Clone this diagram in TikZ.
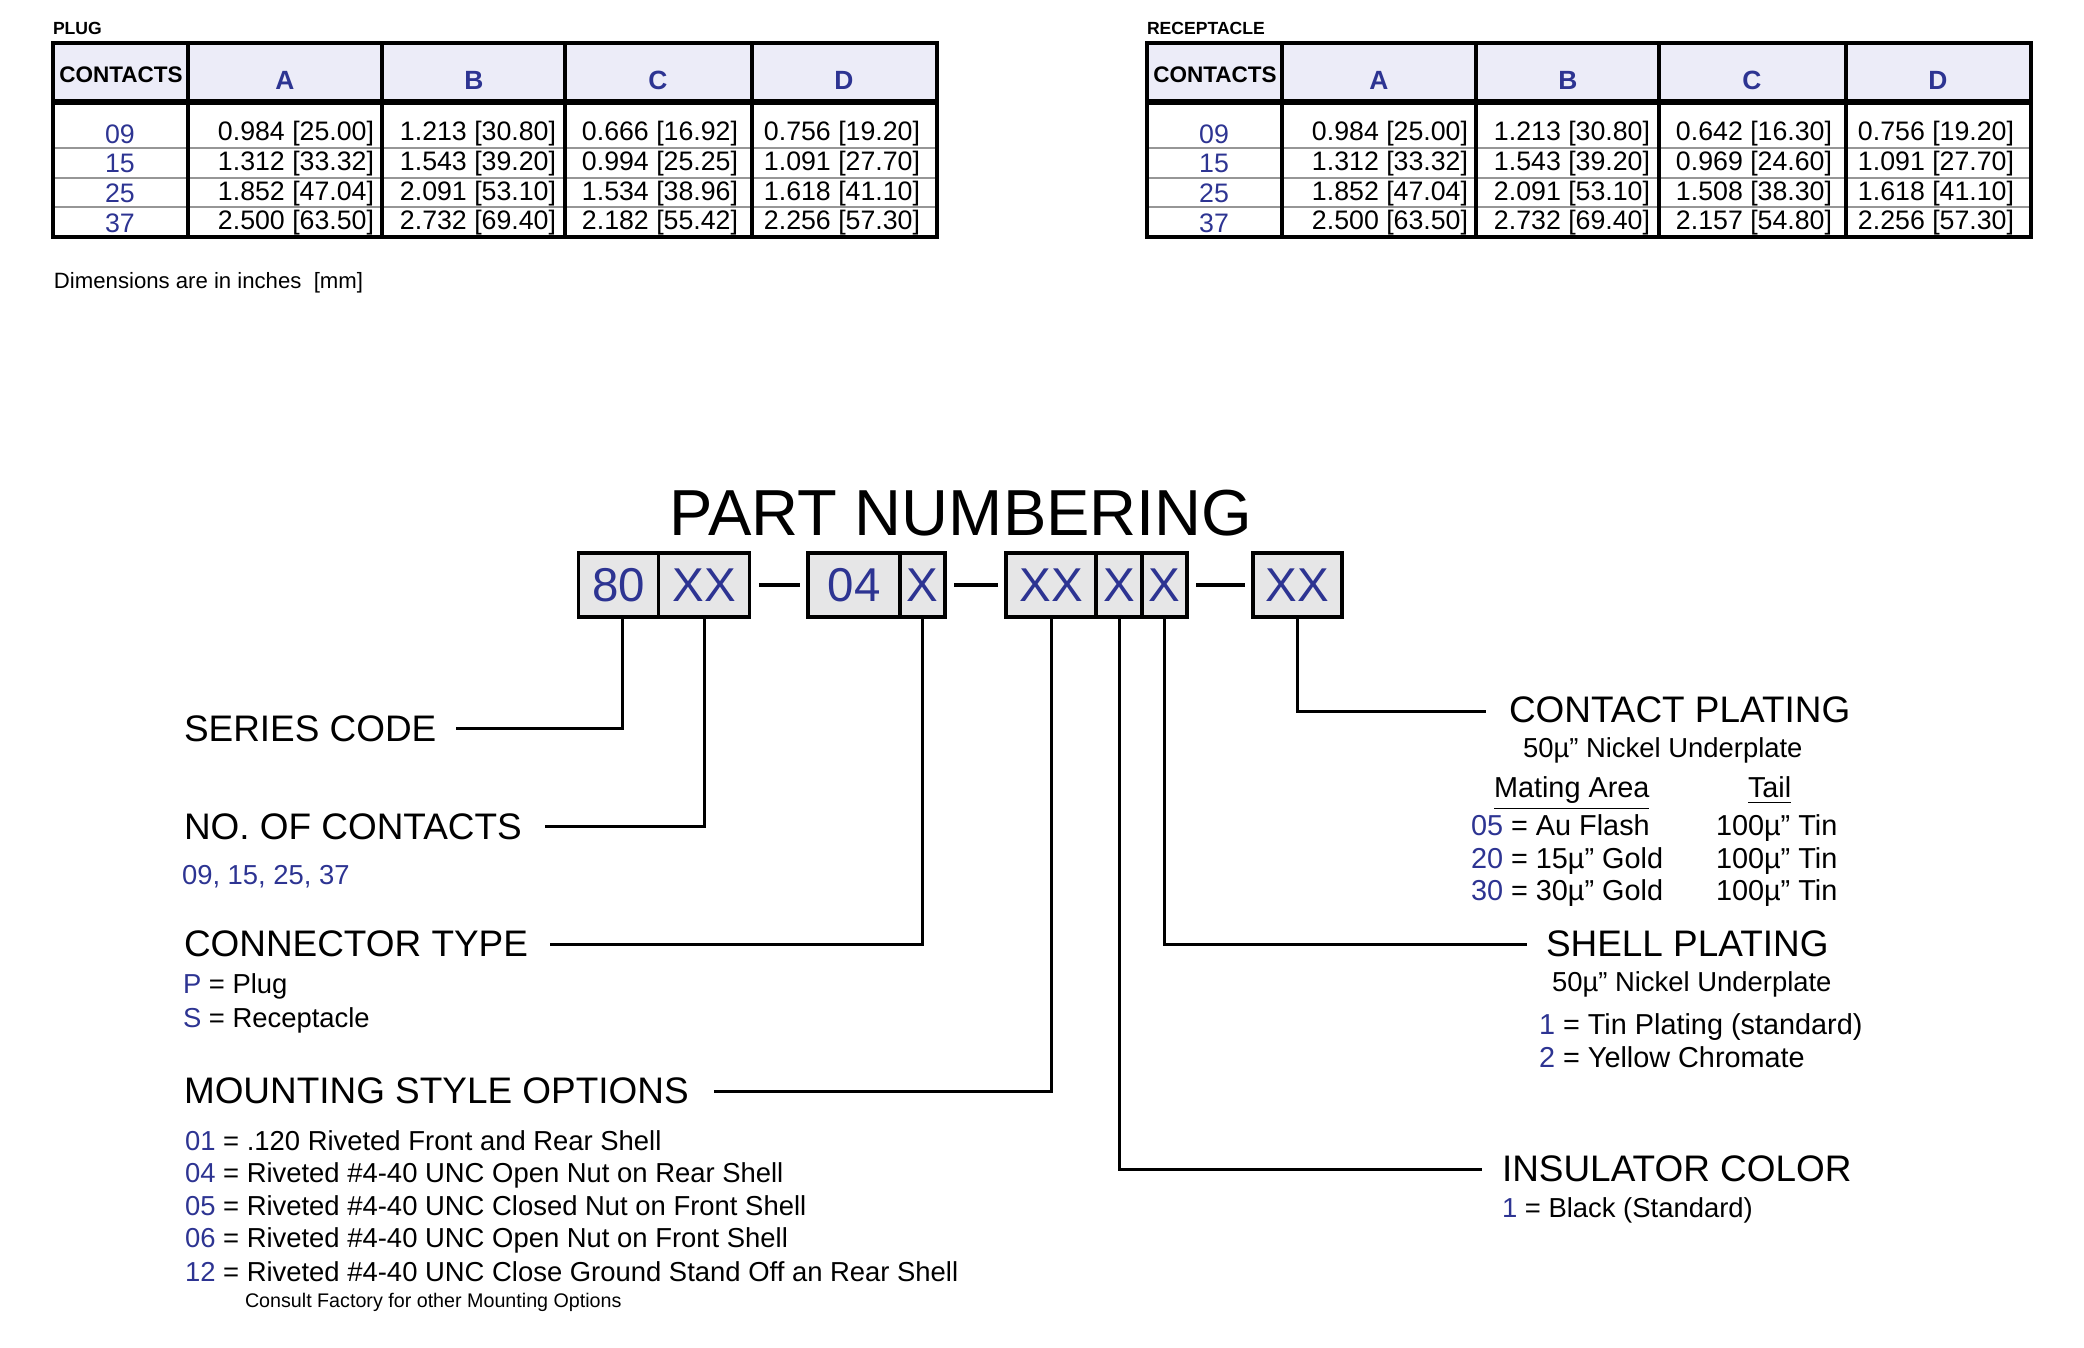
\documentclass[tikz,border=0pt]{standalone}
\usepackage{fontspec}
\setmainfont{Liberation Sans}
\usetikzlibrary{positioning}
\definecolor{codeblue}{RGB}{45,52,146}
\definecolor{headfill}{RGB}{236,236,248}
\definecolor{boxfill}{RGB}{230,230,231}
\definecolor{rowline}{RGB}{150,150,150}

\begin{document}
\begin{tikzpicture}[x=0.01cm,y=-0.01cm,
every node/.style={inner sep=0pt, outer sep=0pt},
head/.style={anchor=mid west, font=\fontsize{10.5}{12}\selectfont},
txt/.style={anchor=mid west, font=\fontsize{7.8}{9}\selectfont},
opt/.style={anchor=mid west, font=\fontsize{8.2}{10}\selectfont},
cell/.style={font=\fontsize{7.6}{9}\selectfont},
colhead/.style={font=\bfseries\fontsize{7.5}{9}\selectfont, text=codeblue},
pbox/.style={draw, line width=1pt, fill=boxfill, minimum height=18.2pt,
  text=codeblue, font=\fontsize{13.5}{16}\selectfont},
lead/.style={line width=0.85pt},
joiner/.style={line width=1pt, shorten <=2.6pt, shorten >=2.2pt}]
\useasboundingbox (0,0) rectangle (2084,1347);

% dimension tables
\foreach \ox/\ttl in {0/PLUG,1094/RECEPTACLE}{
\begin{scope}[xshift=\ox*0.01cm]
\fill[headfill] (53,43) rectangle (937,102);
\draw[rowline, line width=0.4pt] (53,148) -- (937,148) (53,178) -- (937,178) (53,207) -- (937,207);
\draw[line width=1.1pt] (188,43) -- (188,237) (382,43) -- (382,237) (565,43) -- (565,237) (752,43) -- (752,237);
\draw[line width=1.5pt] (53,102) -- (937,102);
\draw[line width=1.1pt] (53,43) rectangle (937,237);
\node[anchor=mid west, font=\bfseries\fontsize{5}{6}\selectfont] (\ttl-title) at (53,25) {\ttl};
\node[font=\bfseries\fontsize{6.4}{8}\selectfont] (\ttl-con) at (121,75) {CONTACTS};
\node[colhead] (\ttl-A) at (285,80) {A};
\node[colhead] (\ttl-B) at (474,80) {B};
\node[colhead] (\ttl-C) at (658,80) {C};
\node[colhead] (\ttl-D) at (844,80) {D};
\end{scope}
}
\foreach \ox/\i/\n/\a/\b/\c/\d in {
0/0/09/0.984 [25.00]/1.213 [30.80]/0.666 [16.92]/0.756 [19.20],
0/1/15/1.312 [33.32]/1.543 [39.20]/0.994 [25.25]/1.091 [27.70],
0/2/25/1.852 [47.04]/2.091 [53.10]/1.534 [38.96]/1.618 [41.10],
0/3/37/2.500 [63.50]/2.732 [69.40]/2.182 [55.42]/2.256 [57.30],
1094/0/09/0.984 [25.00]/1.213 [30.80]/0.642 [16.30]/0.756 [19.20],
1094/1/15/1.312 [33.32]/1.543 [39.20]/0.969 [24.60]/1.091 [27.70],
1094/2/25/1.852 [47.04]/2.091 [53.10]/1.508 [38.30]/1.618 [41.10],
1094/3/37/2.500 [63.50]/2.732 [69.40]/2.157 [54.80]/2.256 [57.30]}{
\node[cell, text=codeblue] (n\ox-\i) at (120+\ox,134+29.6*\i) {\n};
\node[cell] (a\ox-\i) at (296+\ox,134+29.6*\i) {\a};
\node[cell] (b\ox-\i) at (478+\ox,134+29.6*\i) {\b};
\node[cell] (c\ox-\i) at (660+\ox,134+29.6*\i) {\c};
\node[cell] (d\ox-\i) at (842+\ox,134+29.6*\i) {\d};
}
\node[txt, font=\fontsize{6.3}{8}\selectfont] (units) at (54,279) {Dimensions are in inches~~[mm]};

% part number boxes
\node[font=\fontsize{18.5}{22}\selectfont] (title) at (961,513) {PART NUMBERING};
\node[pbox, minimum width=22.8pt] (b80) at (618.5,585) {80};
\node[pbox, minimum width=25.9pt, right=0pt of b80] (bcon) {XX};
\node[pbox, minimum width=26.2pt] (b04) at (854,585) {04};
\node[pbox, minimum width=12.8pt, right=0pt of b04] (btype) {X};
\node[pbox, minimum width=25.6pt] (bmount) at (1051,585) {XX};
\node[pbox, minimum width=13.1pt, right=0pt of bmount] (bins) {X};
\node[pbox, minimum width=12.8pt, right=0pt of bins] (bshell) {X};
\node[pbox, minimum width=25.3pt] (bplate) at (1297.5,585) {XX};
\draw[joiner] (bcon) -- (b04);
\draw[joiner] (btype) -- (bmount);
\draw[joiner] (bshell) -- (bplate);

% left side labels
\node[head] (series) at (184,732) {SERIES CODE};
\node[head] (contacts) at (184,830) {NO. OF CONTACTS};
\node[txt, text=codeblue] (contacts-list) at (182,875) {09, 15, 25, 37};
\node[head] (ctype) at (184,947) {CONNECTOR TYPE};
\node[txt] (ctype-p) at (183,984) {\textcolor{codeblue}{P} = Plug};
\node[txt] (ctype-s) at (183,1018) {\textcolor{codeblue}{S} = Receptacle};
\node[head] (mount) at (184,1094) {MOUNTING STYLE OPTIONS};
\node[txt] (m01) at (185,1141) {\textcolor{codeblue}{01} = .120 Riveted Front and Rear Shell};
\node[txt] (m04) at (185,1173) {\textcolor{codeblue}{04} = Riveted \#4-40 UNC Open Nut on Rear Shell};
\node[txt] (m05) at (185,1206) {\textcolor{codeblue}{05} = Riveted \#4-40 UNC Closed Nut on Front Shell};
\node[txt] (m06) at (185,1238) {\textcolor{codeblue}{06} = Riveted \#4-40 UNC Open Nut on Front Shell};
\node[txt] (m12) at (185,1272) {\textcolor{codeblue}{12} = Riveted \#4-40 UNC Close Ground Stand Off an Rear Shell};
\node[txt, font=\fontsize{5.6}{7}\selectfont] (mnote) at (245,1298) {Consult Factory for other Mounting Options};

% right side labels
\node[head] (cplate) at (1509,713) {CONTACT PLATING};
\node[txt] (cplate-ni) at (1523,748) {50µ” Nickel Underplate};
\node[opt] (mating) at (1494,788) {\underline{Mating Area}};
\node[opt] (tail) at (1748,788) {\underline{Tail}};
\node[opt] (p05) at (1471,826) {\textcolor{codeblue}{05} = Au Flash};
\node[opt] (p20) at (1471,859) {\textcolor{codeblue}{20} = 15µ” Gold};
\node[opt] (p30) at (1471,891) {\textcolor{codeblue}{30} = 30µ” Gold};
\node[opt] (t05) at (1716,826) {100µ” Tin};
\node[opt] (t20) at (1716,859) {100µ” Tin};
\node[opt] (t30) at (1716,891) {100µ” Tin};
\node[head] (shell) at (1546,947) {SHELL PLATING};
\node[txt] (shell-ni) at (1552,982) {50µ” Nickel Underplate};
\node[opt] (s1) at (1539,1025) {\textcolor{codeblue}{1} = Tin Plating (standard)};
\node[opt] (s2) at (1539,1058) {\textcolor{codeblue}{2} = Yellow Chromate};
\node[head] (insul) at (1502,1172) {INSULATOR COLOR};
\node[txt] (i1) at (1502,1208) {\textcolor{codeblue}{1} = Black (Standard)};

% leader lines
\coordinate (series-end) at (456,728);
\coordinate (contacts-end) at (545,826);
\coordinate (ctype-end) at (550,944);
\coordinate (mount-end) at (714,1091);
\coordinate (cplate-end) at (1486,711);
\coordinate (shell-end) at (1527,944);
\coordinate (insul-end) at (1482,1169);
\draw[lead] ([xshift=1pt]b80.south) |- (series-end);
\draw[lead] (bcon.south) |- (contacts-end);
\draw[lead] (btype.south) |- (ctype-end);
\draw[lead] (bmount.south) |- (mount-end);
\draw[lead] (bplate.south) |- (cplate-end);
\draw[lead] (bshell.south) |- (shell-end);
\draw[lead] (bins.south) |- (insul-end);
\end{tikzpicture}
\end{document}
